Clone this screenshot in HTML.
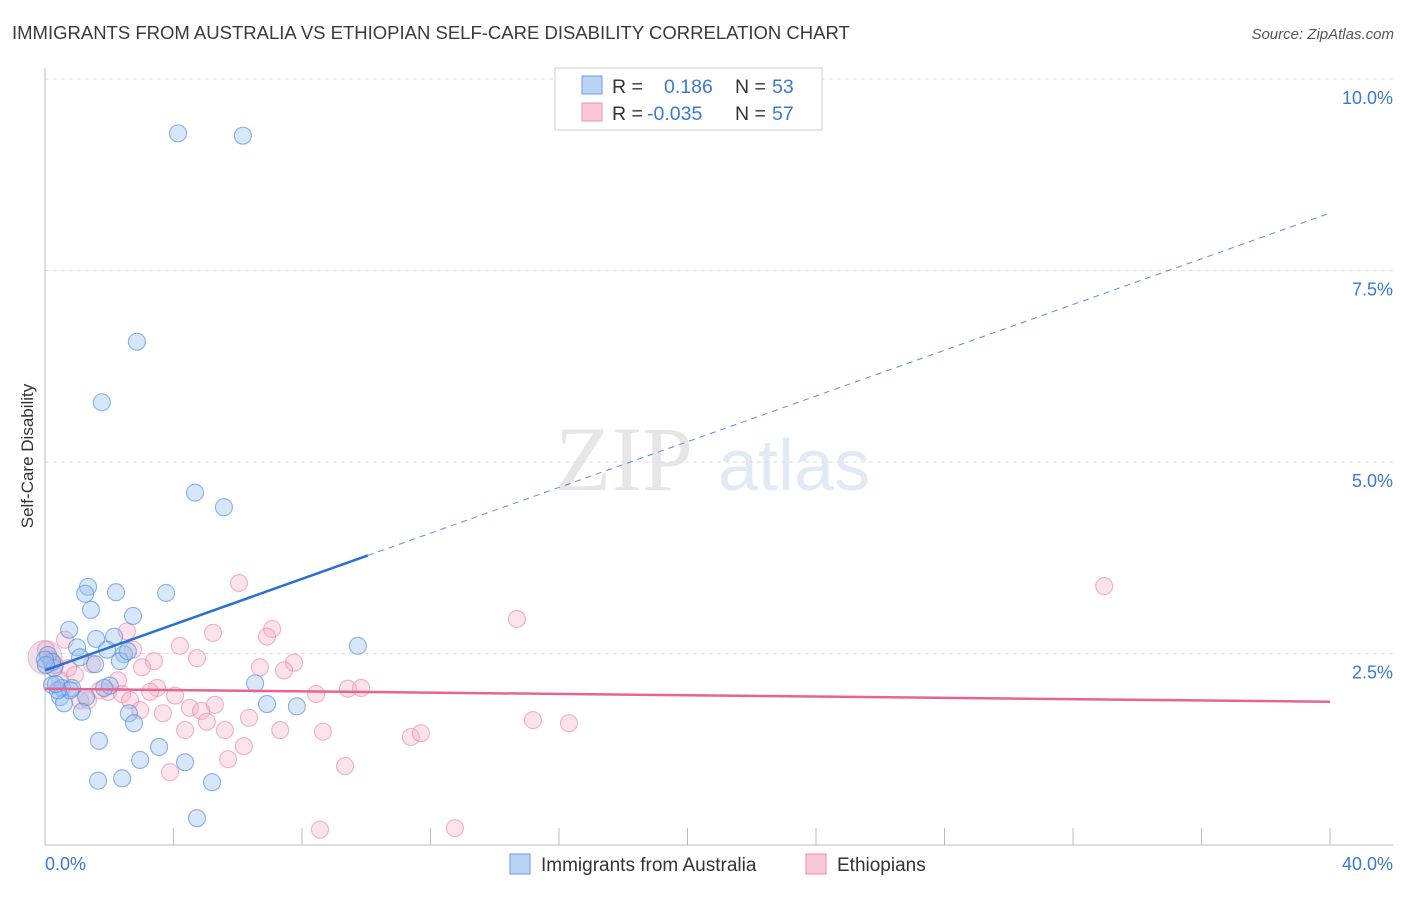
<!DOCTYPE html>
<html><head><meta charset="utf-8"><style>
body{margin:0;background:#fff;font-family:"Liberation Sans",sans-serif}
</style></head><body>
<svg id="chart" width="1406" height="892" xmlns="http://www.w3.org/2000/svg" font-family="Liberation Sans, sans-serif">
<text x="12" y="39" font-size="18.5" fill="#3a3a3a">IMMIGRANTS FROM AUSTRALIA VS ETHIOPIAN SELF-CARE DISABILITY CORRELATION CHART</text>
<text x="1394" y="39" font-size="15" fill="#555" font-style="italic" text-anchor="end">Source: ZipAtlas.com</text>
<text transform="translate(33,456) rotate(-90)" font-size="17" fill="#333" text-anchor="middle">Self-Care Disability</text>
<g opacity="0.18"><text x="555" y="490" font-size="92" font-family="Liberation Serif, serif" fill="#777">ZIP</text><text x="718" y="490" font-size="72" fill="#5b8fd6">atlas</text></g>
<g id="grid"></g><g id="axes"></g><g id="pts"></g><g id="lines"></g>
<g>
<rect x="555" y="68" width="267" height="62" fill="#fff" stroke="#ccc"/>
<rect x="582" y="76" width="20" height="18" fill="#b8d3f5" stroke="#6b9ee0"/>
<rect x="582" y="103" width="20" height="18" fill="#f9c6d6" stroke="#e892ad"/>
<text x="612" y="93" font-size="19.5" fill="#333">R =</text><text x="664" y="93" font-size="19.5" fill="#3a78d4">0.186</text>
<text x="735" y="93" font-size="19.5" fill="#333">N =</text><text x="772" y="93" font-size="19.5" fill="#3a78d4">53</text>
<text x="612" y="120" font-size="19.5" fill="#333">R =</text><text x="647" y="120" font-size="19.5" fill="#3a78d4">-0.035</text>
<text x="735" y="120" font-size="19.5" fill="#333">N =</text><text x="772" y="120" font-size="19.5" fill="#3a78d4">57</text>
</g>
<g>
<rect x="510" y="854" width="20" height="20" fill="#b8d3f5" stroke="#6b9ee0"/>
<text x="541" y="871" font-size="19" fill="#333">Immigrants from Australia</text>
<rect x="806" y="854" width="20" height="20" fill="#f9c6d6" stroke="#e892ad"/>
<text x="837" y="871" font-size="19" fill="#333">Ethiopians</text>
</g>
</svg>
<script>
const blueX=[4.14,6.16,2.86,1.77,4.67,5.57,1.34,1.25,2.21,3.77,1.43,2.74,0.75,1.59,2.15,0.09,1.00,1.09,1.93,2.46,2.33,1.56,0.28,9.74,6.54,0.22,0.53,0.84,2.02,0.47,0.59,1.28,1.15,2.61,6.91,7.84,2.77,1.68,3.55,2.96,4.36,1.65,2.40,5.20,4.73,0.22,0.78,1.84,0.40,0.34,2.58,0.0,0.03];
const blueY=[9.29,9.26,6.57,5.78,4.60,4.41,3.37,3.28,3.30,3.29,3.07,2.99,2.81,2.69,2.72,2.48,2.58,2.45,2.55,2.49,2.40,2.36,2.31,2.60,2.11,2.09,2.05,2.05,2.08,1.93,1.85,1.93,1.74,1.72,1.84,1.81,1.59,1.36,1.28,1.11,1.08,0.84,0.87,0.82,0.35,2.39,2.02,2.05,2.02,2.10,2.53,2.42,2.35];
const pinkX=[6.04,32.97,14.69,7.07,5.23,2.55,6.91,4.20,2.74,7.75,3.39,4.73,6.69,3.02,1.46,7.44,0.72,0.03,0.16,0.93,2.27,1.96,3.49,4.05,3.27,2.40,1.34,8.44,9.43,9.84,4.51,3.67,5.29,4.86,5.04,6.35,4.36,7.32,5.60,8.65,15.19,16.31,11.39,11.70,6.19,5.70,9.34,3.89,8.56,12.76,0.47,1.71,1.09,2.65,0.31,0.62,2.96];
const pinkY=[3.42,3.38,2.95,2.82,2.77,2.79,2.72,2.60,2.55,2.38,2.40,2.44,2.32,2.32,2.36,2.28,2.31,2.55,2.42,2.22,2.15,2.00,2.05,1.95,2.00,1.97,1.89,1.97,2.04,2.05,1.79,1.72,1.83,1.75,1.61,1.66,1.50,1.50,1.50,1.48,1.63,1.59,1.41,1.46,1.29,1.12,1.03,0.95,0.20,0.22,2.15,2.02,1.89,1.89,2.35,2.68,1.76];
const yTicks=[2.5,5.0,7.5,10.0];
const yTickLabels=["2.5%","5.0%","7.5%","10.0%"];
const xTicks=[0,4,8,12,16,20,24,28,32,36,40];
const blueTrend=[2.28,8.25], blueSolidEnd=10.05;
const pinkTrend=[2.04,1.87];
const NS="http://www.w3.org/2000/svg";
const sx=v=>45+v*32.125, sy=v=>845-v*76.6;
function mk(t,a,p){const e=document.createElementNS(NS,t);for(const k in a)e.setAttribute(k,a[k]);p.appendChild(e);return e;}
const grid=document.getElementById('grid'),axes=document.getElementById('axes'),pts=document.getElementById('pts'),lines=document.getElementById('lines');
yTicks.forEach((t,i)=>{
 const l=mk('line',{x1:45,x2:1393,y1:sy(t),y2:sy(t),stroke:'#ddd','stroke-dasharray':'4,4'},grid);
 
 
 const tx=mk('text',{x:1393,y:sy(t)+25,'font-size':18,fill:'#3a78d4','text-anchor':'end'},axes);
 tx.textContent=yTickLabels[i];
 
 
});
const ax=mk('line',{x1:45,x2:45,y1:68,y2:845,stroke:'#bbb'},axes);


const bx=mk('line',{x1:45,x2:1393,y1:845,y2:845,stroke:'#bbb'},axes);


xTicks.forEach(t=>{
 const l=mk('line',{x1:sx(t),x2:sx(t),y1:828,y2:845,stroke:'#bbb'},axes);
 
 
});
const x0=mk('text',{x:45,y:870,'font-size':18,fill:'#3a78d4'},axes);x0.textContent='0.0%';


const x1=mk('text',{x:1393,y:870,'font-size':18,fill:'#3a78d4','text-anchor':'end'},axes);x1.textContent='40.0%';


const big=mk('circle',{cx:sx(0),cy:sy(2.45),r:17,fill:'rgba(200,160,200,0.35)',stroke:'rgba(220,130,170,0.45)'},pts);


pinkX.forEach((x,i)=>{
 const c=mk('circle',{cx:sx(x),cy:sy(pinkY[i]),r:8.5,fill:'rgba(246,170,195,0.33)',stroke:'rgba(232,130,165,0.6)','stroke-width':1.1},pts);
 
 
});
blueX.forEach((x,i)=>{
 const c=mk('circle',{cx:sx(x),cy:sy(blueY[i]),r:8.5,fill:'rgba(150,190,240,0.38)',stroke:'rgba(80,140,220,0.65)','stroke-width':1.1},pts);
 
 
});
const by=x=>blueTrend[0]+(blueTrend[1]-blueTrend[0])*x/40;
const b1=mk('line',{x1:sx(0),y1:sy(by(0)),x2:sx(blueSolidEnd),y2:sy(by(blueSolidEnd)),stroke:'#2a6fd6','stroke-width':2.5},lines);


const b2=mk('line',{x1:sx(blueSolidEnd),y1:sy(by(blueSolidEnd)),x2:sx(40),y2:sy(by(40)),stroke:'#5a8fdc','stroke-width':1,'stroke-dasharray':'6,5'},lines);


const p1=mk('line',{x1:sx(0),y1:sy(pinkTrend[0]),x2:sx(40),y2:sy(pinkTrend[1]),stroke:'#e8638f','stroke-width':2.5},lines);


</script>
</body></html>
